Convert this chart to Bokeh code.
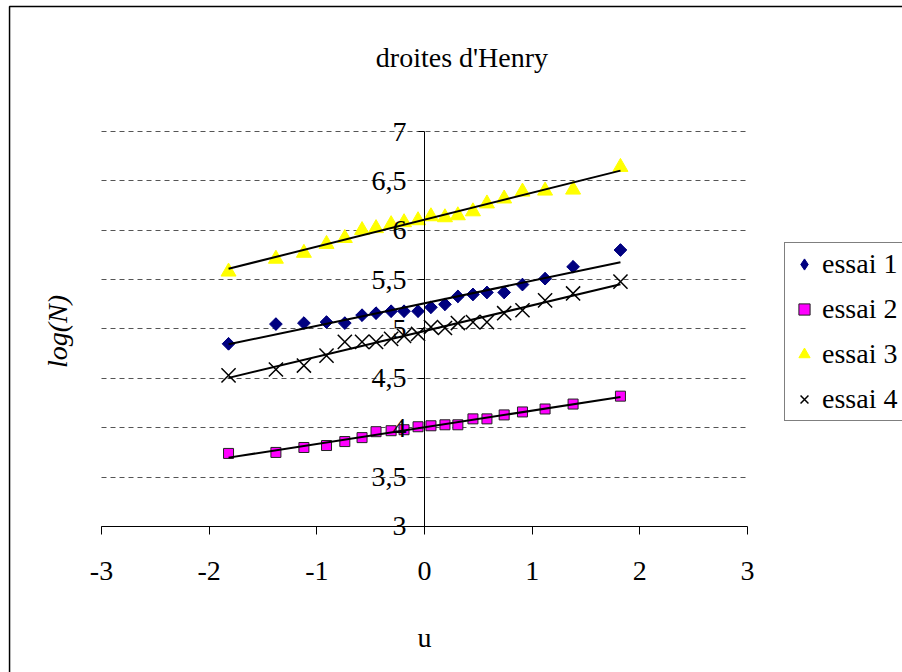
import numpy as np
from bokeh.plotting import figure
from bokeh.models import (FixedTicker, CustomJSTickFormatter, Label, Legend,
                          LegendItem, BoxAnnotation, Range1d)
from bokeh.embed import file_html
from bokeh.resources import INLINE

# ---- data ----
u = [-1.82, -1.38, -1.12, -0.91, -0.74, -0.58, -0.45, -0.31, -0.19, -0.06,
     0.06, 0.19, 0.31, 0.45, 0.58, 0.74, 0.91, 1.12, 1.38, 1.82]
essai1 = [4.85, 5.05, 5.06, 5.07, 5.06, 5.14, 5.16, 5.18, 5.18, 5.18,
          5.22, 5.25, 5.33, 5.35, 5.37, 5.37, 5.45, 5.51, 5.63, 5.80]
essai2 = [3.74, 3.75, 3.80, 3.82, 3.86, 3.90, 3.96, 3.97, 3.98, 4.01,
          4.02, 4.03, 4.03, 4.09, 4.09, 4.13, 4.16, 4.19, 4.24, 4.32]
essai3 = [5.58, 5.71, 5.77, 5.86, 5.92, 6.00, 6.02, 6.06, 6.08, 6.10,
          6.14, 6.13, 6.15, 6.19, 6.27, 6.32, 6.39, 6.40, 6.41, 6.64]
essai4 = [4.53, 4.59, 4.63, 4.73, 4.87, 4.87, 4.87, 4.90, 4.93, 4.95,
          5.02, 5.01, 5.06, 5.07, 5.07, 5.16, 5.19, 5.29, 5.36, 5.48]
series_names = ["essai 1", "essai 2", "essai 3", "essai 4"]
x_ticks = [-3, -2, -1, 0, 1, 2, 3]
y_ticks = [3, 3.5, 4, 4.5, 5, 5.5, 6, 6.5, 7]
title_text = "droites d'Henry"
x_label = "u"
y_label = "log(N)"

FONT = "Liberation Serif"
FS = "28px"

# the frame covers the whole canvas; axes cross inside it
p = figure(width=902, height=672,
           min_border_left=0, min_border_right=0,
           min_border_top=0, min_border_bottom=0,
           x_range=Range1d(-3.938, 4.4396), y_range=Range1d(1.5215, 8.3266),
           title=None, toolbar_location=None, output_backend="svg")
p.outline_line_color = None
p.background_fill_color = "white"
p.border_fill_color = "white"

# x axis at log(N) = 3
p.xaxis.fixed_location = 3
p.xaxis.bounds = (-3, 3)
p.xaxis.ticker = FixedTicker(ticks=x_ticks)
p.xaxis.formatter = CustomJSTickFormatter(code="return String(tick);")
p.xaxis.major_tick_out = 8
p.xaxis.major_tick_in = 0
p.xaxis.minor_tick_line_color = None
p.xaxis.axis_line_color = "black"
p.xaxis.major_tick_line_color = "black"
p.xaxis.major_label_text_font = FONT
p.xaxis.major_label_text_font_size = FS
p.xaxis.major_label_text_color = "black"
p.xaxis.major_label_standoff = 28

# y axis crossing at u = 0
p.yaxis.fixed_location = 0
p.yaxis.bounds = (3, 7)
p.yaxis.ticker = FixedTicker(ticks=y_ticks)
p.yaxis.formatter = CustomJSTickFormatter(code="return String(tick).replace('.', ',');")
p.yaxis.major_tick_out = 6
p.yaxis.major_tick_in = 0
p.yaxis.minor_tick_line_color = None
p.yaxis.axis_line_color = "black"
p.yaxis.major_tick_line_color = "black"
p.yaxis.major_label_text_font = FONT
p.yaxis.major_label_text_font_size = FS
p.yaxis.major_label_text_color = "black"
p.yaxis.major_label_standoff = 12

p.xgrid.visible = False
p.ygrid.ticker = FixedTicker(ticks=y_ticks)
p.ygrid.bounds = (3, 7)
p.ygrid.cross_bounds = (-3, 3)
p.ygrid.grid_line_color = "#555555"
p.ygrid.grid_line_dash = "5 4"
p.ygrid.grid_line_width = 1

# markers
# diamond renderer (gives the legend swatch; hidden under the rotated squares)
r1_key = p.scatter(u, essai1, marker="diamond", size=12,
                   fill_color="#000080", line_color="#000080")
r1 = p.scatter(u, essai1, marker="square", angle=np.pi / 4, size=9,
               fill_color="#000080", line_color="#000080")
r2 = p.scatter(u, essai2, marker="square", size=10,
               fill_color="#FF00FF", line_color="#222222", line_width=1)
r3 = p.scatter(u, essai3, marker="triangle", size=15,
               fill_color="#FFFF00", line_color="#FFFF00")
r4 = p.scatter(u, essai4, marker="x", size=20,
               line_color="black", line_width=1.5)

# linear trend lines
for ys in (essai1, essai2, essai3, essai4):
    a, b = np.polyfit(u, ys, 1)
    xs = [u[0], u[-1]]
    p.line(xs, [a * xs[0] + b, a * xs[1] + b], line_color="black", line_width=2)

legend = Legend(items=[LegendItem(label=n, renderers=[r])
                       for n, r in zip(series_names, [r1_key, r2, r3, r4])],
                location=(784, 251))
legend.label_text_font = FONT
legend.label_text_font_size = FS
legend.label_text_color = "black"
legend.label_height = 30
legend.glyph_height = 30
legend.glyph_width = 28
legend.spacing = 13
legend.padding = 5
legend.margin = 0
legend.label_standoff = 4
legend.border_line_color = "black"
legend.border_line_width = 1
legend.background_fill_alpha = 1
p.add_layout(legend)

p.add_layout(Label(x=0.348, y=7.749, text=title_text, text_align="center",
                   text_baseline="alphabetic", text_font=FONT, text_font_size=FS,
                   text_color="black"))
p.add_layout(Label(x=0, y=1.876, text=x_label, text_align="center",
                   text_baseline="alphabetic", text_font=FONT, text_font_size=FS,
                   text_color="black"))
p.add_layout(Label(x=-3.409, y=4.975, text=y_label, angle=np.pi / 2,
                   text_align="center", text_baseline="middle",
                   text_font=FONT, text_font_size=FS, text_font_style="italic",
                   text_color="black"))

# outer chart border (only its top and left edges fall inside the window)
p.add_layout(BoxAnnotation(left=-3.854, right=10, top=8.266, bottom=0,
                           fill_alpha=0, line_color="black", line_alpha=1,
                           line_width=1.5))

open("out.html", "w").write(file_html(p, INLINE))
